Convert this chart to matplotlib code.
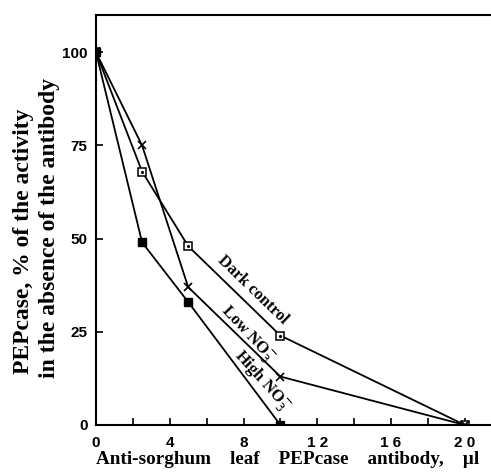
import numpy as np
import matplotlib.pyplot as plt

# antibody volume (ul) and remaining PEPcase activity (%)
dark_x = [0, 2.5, 5, 10, 20]
dark_y = [100, 68, 48, 24, 0]
low_x = [0, 2.5, 5, 10, 20]
low_y = [100, 75, 37, 13, 0]
high_x = [0, 2.5, 5, 10]
high_y = [100, 49, 33, 0]

xticks = [0, 4, 8, 12, 16, 20]
xtick_labels = ['0', '4', '8', '1 2', '1 6', '2 0']
yticks = [0, 25, 50, 75, 100]

serif = 'Liberation Serif'
sans = 'Liberation Sans'

fig = plt.figure(figsize=(4.91, 4.75), dpi=100)
ax = fig.add_axes([0.1955, 0.1053, 0.86, 0.863])

lw = 1.3
ax.plot(dark_x, dark_y, color='k', lw=lw, marker='s', ms=6, mfc='white', mec='k', mew=1.1)
ax.plot(dark_x, dark_y, ls='none', marker='.', ms=2.5, color='k')
ax.plot(low_x, low_y, color='k', lw=lw, marker='x', ms=6, mew=1.2)
ax.plot(high_x, high_y, color='k', lw=lw, marker='s', ms=6, mfc='k', mec='k')

ax.set_xlim(0, 22.9)
ax.set_ylim(0, 110)
ax.spines['right'].set_visible(False)
for s in ['left', 'bottom', 'top']:
    ax.spines[s].set_linewidth(1.5)

ax.set_xticks(xticks)
ax.set_xticklabels(xtick_labels, fontfamily=sans, fontweight='bold', fontsize=11)
ax.set_xticks(np.arange(2, 21, 4), minor=True)
ax.set_yticks(yticks)
ax.set_yticklabels([str(v) for v in yticks], fontfamily=sans, fontweight='bold', fontsize=11)
ax.tick_params(axis='both', which='both', direction='in', length=5, width=1.2)
ax.tick_params(axis='x', pad=8)
ax.tick_params(axis='y', pad=6)

lab = dict(fontfamily=serif, fontweight='bold', fontsize=12, rotation_mode='anchor',
           ha='center', va='center')
ax.text(8.5, 36.3, 'Dark control', rotation=-44, **lab)
ax.text(8.2, 24.2, r'Low NO$_3^{-}$', rotation=-47, **lab)
ax.text(9.0, 11.8, r'High NO$_3^{-}$', rotation=-48, **lab)

fig.text(0.5855, 0.032, '    '.join(['Anti-sorghum', 'leaf', 'PEPcase', 'antibody,', '\u00b5l']),
         fontfamily=serif, fontweight='bold', fontsize=13.8, ha='center', va='center')
fig.text(0.047, 0.212, 'PEPcase, % of the activity', rotation=90,
         fontfamily=serif, fontweight='bold', fontsize=17, ha='center', va='bottom')
fig.text(0.100, 0.205, 'in the absence of the antibody', rotation=90,
         fontfamily=serif, fontweight='bold', fontsize=17, ha='center', va='bottom')

fig.savefig('out.png', dpi=100)
